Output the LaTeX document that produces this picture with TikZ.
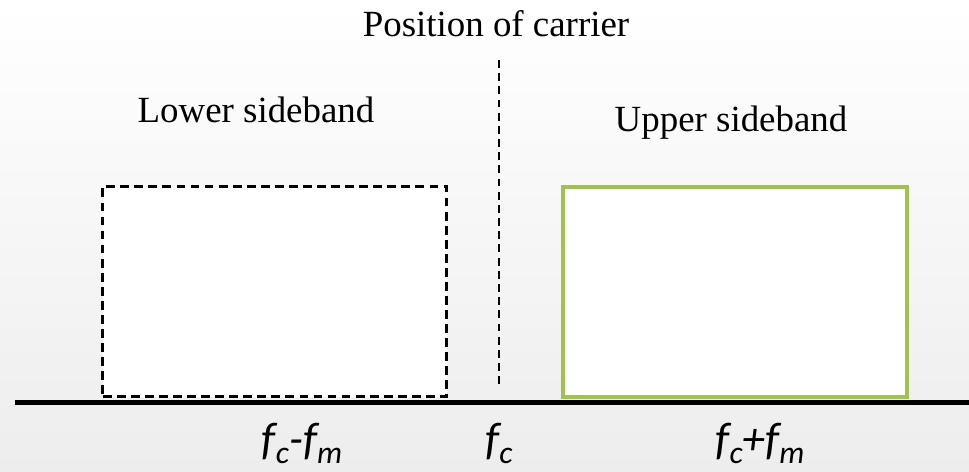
\documentclass[tikz,border=0pt]{standalone}
\usepackage{fontspec}
\setmainfont{Liberation Serif}
\newfontfamily\calibri{Carlito}
\usetikzlibrary{positioning}
\definecolor{SBGreen}{RGB}{160,194,80}
\definecolor{SBGrey}{RGB}{237,237,237}
\newcommand{\lowidx}[1]{\raisebox{-0.2em}{\fontsize{18}{18}\selectfont #1}}

\begin{document}
\begin{tikzpicture}[x=0.02cm, y=-0.02cm]
    \tikzset{caption/.style={font=\fontsize{21}{25}\selectfont, inner sep=0pt, anchor=base},
             freq/.style={font=\calibri\itshape\fontsize{26}{30}\selectfont, inner sep=0pt, anchor=base},
             band/.style={draw, rectangle, fill=white, minimum width=6.88cm, minimum height=4.2cm, inner sep=0pt}}
    \useasboundingbox (0,0) rectangle (969,472);
    \shade[top color=white, bottom color=SBGrey] (0,0) rectangle (969,472);

    \node (Carrier) [caption] at (496,37) {Position of carrier};
    \node (Lower) [caption] at (256,123) {Lower sideband};
    \node (Upper) [caption] at (731,132) {Upper sideband};

    \node (LowerBox) [band, dashed, line width=1.6pt, dash pattern=on 5pt off 3pt] at (274.7,291.7) {};
    \node (UpperBox) [band, draw=SBGreen, line width=1.8pt] at (735,292) {};

    \coordinate (CarrierTop) at (499,60);
    \coordinate (CarrierBot) at (499,388);
    \coordinate (AxisLeft) at (15,402.5);
    \coordinate (AxisRight) at (969,402.5);

    \draw[dashed, line width=0.8pt, dash pattern=on 4.5pt off 3pt] (CarrierTop) -- (CarrierBot);
    \draw[line width=2.8pt] (AxisLeft) -- (AxisRight);

    \node (FcMinus) [freq] at (302,454) {f\lowidx{c}-f\lowidx{m}};
    \node (Fc) [freq] at (499,454) {f\lowidx{c}};
    \node (FcPlus) [freq] at (760,454) {f\lowidx{c}+f\lowidx{m}};
\end{tikzpicture}
\end{document}
